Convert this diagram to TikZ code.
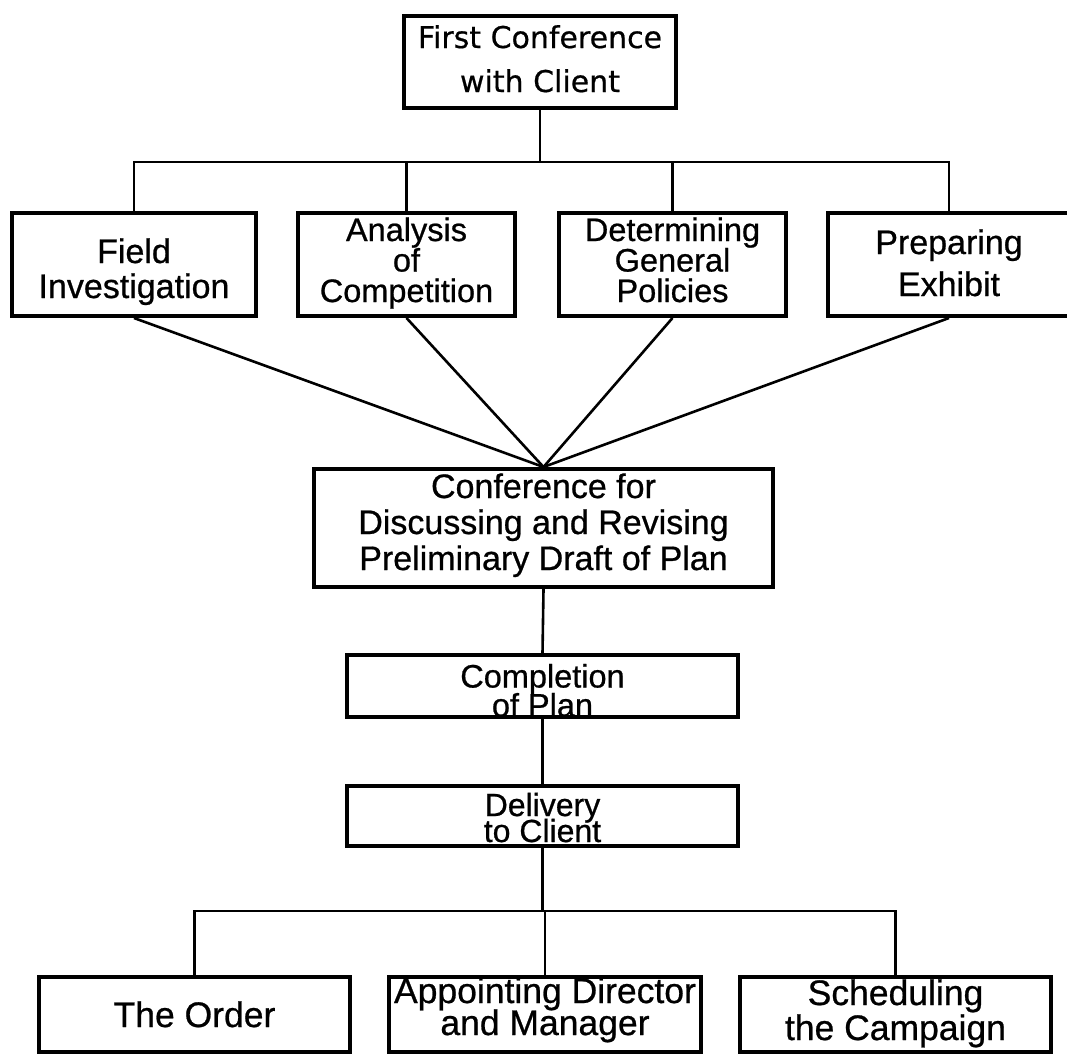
\documentclass[tikz,border=0pt]{standalone}
\usepackage{fontspec}
\setmainfont{Liberation Sans}[FakeBold=0.7]
\newfontfamily\topfont{DejaVu Sans}[FakeBold=0.6]
\newcommand\tightls{\lineskiplimit=-1000pt\relax}
\begin{document}
\begin{tikzpicture}[x=1pt,y=-1pt,
  box/.style={draw=black, line width=4pt, rectangle, inner sep=0pt, align=center, text=black},
  conn/.style={draw=black, line width=2.6pt},
  fs/.style n args={4}{font={\fontsize{#1}{#2}\selectfont\tightls}, text height=#3pt, text depth=#4pt}]
\useasboundingbox (0,0) rectangle (1067,1055);
\fill[white] (0,0) rectangle (1067,1055);
% boxes
\node[box, minimum width=272pt, minimum height=92pt, text height=74pt, text depth=14pt, font={\topfont\fontsize{30}{44}\selectfont\tightls}] (top) at (540,62) {First Conference\\with Client};
\node[box, minimum width=244pt, minimum height=103pt, fs={34}{35}{83}{16}] (field) at (134,264.5) {Field\\Investigation};
\node[box, minimum width=217pt, minimum height=103pt, fs={32.5}{30.5}{87}{12}] (anal) at (406.5,264.5) {Analysis\\of\\Competition};
\node[box, minimum width=227pt, minimum height=103pt, fs={32.5}{30.5}{87}{12}] (determ) at (672.5,264.5) {Determining\\General\\Policies};
\node[box, minimum width=242pt, minimum height=103pt, fs={34}{42}{81}{18}] (prep) at (949,264.5) {Preparing\\Exhibit};
\node[box, minimum width=459pt, minimum height=118pt, fs={34}{36}{99}{15}] (conf) at (543.5,528) {Conference for\\Discussing and Revising\\Preliminary Draft of Plan};
\node[box, minimum width=391pt, minimum height=62pt, fs={32.5}{29}{61}{0}] (compl) at (542.5,686) {Completion\\of Plan};
\node[box, minimum width=391pt, minimum height=60pt, fs={32}{26}{54}{2}] (deliv) at (542.5,816) {Delivery\\to Client};
\node[box, minimum width=311pt, minimum height=75pt, fs={35.5}{33}{48.5}{22.5}] (order) at (194.5,1014) {The Order};
\node[box, minimum width=312pt, minimum height=75pt, fs={35.5}{32}{56.5}{14.5}] (appoint) at (545,1014) {Appointing Director\\and Manager};
\node[box, minimum width=311pt, minimum height=75pt, fs={35.5}{35}{61.5}{9.5}] (sched) at (895.5,1014) {Scheduling\\the Campaign};
% upper bus
\coordinate (hb) at (540,162);
\coordinate (lb) at (542.5,911);
\draw[conn] (top.south) -- (hb);
\draw[conn] (field.north) -- (field.north |- hb) -- (prep.north |- hb) -- (prep.north);
\draw[conn] (anal.north) -- (anal.north |- hb);
\draw[conn] (determ.north) -- (determ.north |- hb);
% converging lines
\draw[conn] (field.south) -- (conf.north);
\draw[conn] (anal.south) -- (conf.north);
\draw[conn] (determ.south) -- (conf.north);
\draw[conn] (prep.south) -- (conf.north);
% chain
\draw[conn] (conf.south) -- (compl.north);
\draw[conn] (compl.south) -- (deliv.north);
% lower bus
\draw[conn] (deliv.south) -- (lb);
\draw[conn] (order.north) -- (order.north |- lb) -- (sched.north |- lb) -- (sched.north);
\draw[conn] (appoint.north) -- (appoint.north |- lb);
\end{tikzpicture}
\end{document}
